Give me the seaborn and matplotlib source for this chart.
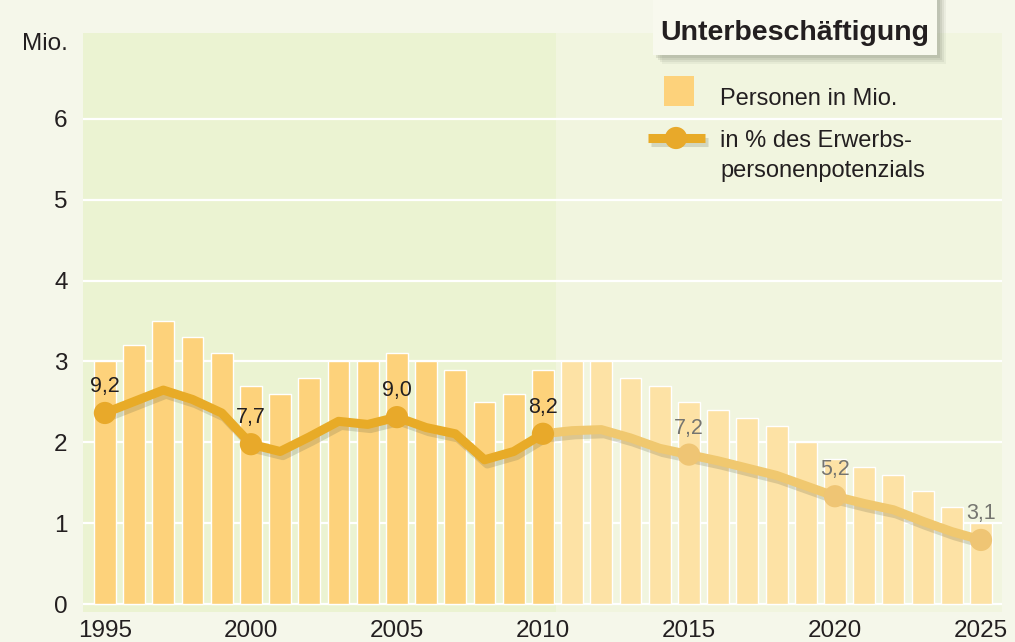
import numpy as np
import pandas as pd
import seaborn as sns
import matplotlib.pyplot as plt
import matplotlib.patheffects as pe
from matplotlib.lines import Line2D
from matplotlib.patches import Rectangle

# Daten
years = list(range(1995, 2026))
personen = [3.0, 3.2, 3.5, 3.3, 3.1, 2.7, 2.6, 2.8, 3.0, 3.0, 3.1, 3.0, 2.9, 2.5, 2.6, 2.9,
            3.0, 3.0, 2.8, 2.7, 2.5, 2.4, 2.3, 2.2, 2.0, 1.8, 1.7, 1.6, 1.4, 1.2, 1.0]
quote = [9.2, 9.75, 10.3, 9.85, 9.2, 7.7, 7.35, 8.05, 8.8, 8.65, 9.0, 8.5, 8.2, 6.95, 7.35, 8.2,
         8.35, 8.4, 8.0, 7.5, 7.2, 6.9, 6.55, 6.2, 5.7, 5.2, 4.85, 4.55, 4.0, 3.5, 3.1]
label_years = [1995, 2000, 2005, 2010, 2015, 2020, 2025]
last_actual = 2010

W, H = 1015, 642
BG = '#f5f7ea'
c_bar, c_bar_proj = '#fdd27b', '#fde2a5'
c_line, c_line_proj = '#e8ab27', '#f0c86f'
c_text = '#231f20'

sns.set_theme(style='white')
plt.rcParams['font.family'] = ['Liberation Sans', 'DejaVu Sans']

df = pd.DataFrame({'Jahr': years, 'Personen': personen, 'Quote': quote})
df['Phase'] = np.where(df['Jahr'] <= last_actual, 'Ist', 'Projektion')


def px(x, y):
    return x / W, 1 - y / H


fig = plt.figure(figsize=(W / 100, H / 100), dpi=100, facecolor=BG)
ax = fig.add_axes([83 / W, 1 - 612 / H, (1002 - 83) / W, (612 - 33) / H])
ax.set_facecolor('#f1f5df')

ylo, yhi = -0.093, 7.056
xlo, xhi = 1994.25, 2025.72
ax.axvspan(xlo, last_actual + 0.45, color='#ebf3d2', zorder=0.2, lw=0)

sns.barplot(data=df, x='Jahr', y='Personen', hue='Phase',
            palette={'Ist': c_bar, 'Projektion': c_bar_proj},
            native_scale=True, width=0.75, dodge=False, saturation=1,
            errorbar=None, legend=False, ax=ax)

ax.set_xlim(xlo, xhi)
ax.set_ylim(ylo, yhi)
ax.set_yticks(range(0, 7))
ax.set_xticks(label_years)
ax.set_axisbelow(True)
ax.grid(axis='y', color='white', lw=1.6)
ax.grid(axis='x', visible=False)
ax.tick_params(length=0, labelsize=17.5, colors=c_text)
ax.tick_params(axis='x', pad=6)
ax.tick_params(axis='y', pad=11)
ax.set_xlabel('')
ax.set_ylabel('')
sns.despine(ax=ax, left=True, bottom=True)

# Quote auf Zweitachse (ohne Skala)
scale = 0.257
ax2 = ax.twinx()
ax2.set_ylim(ylo / scale, yhi / scale)
shadow = [pe.SimpleLineShadow(offset=(2, -3), shadow_color='#5a5a40', alpha=0.2), pe.Normal()]

hist = df[df['Jahr'] <= last_actual].reset_index(drop=True)
proj = df[df['Jahr'] >= last_actual].reset_index(drop=True)
mk_hist = [i for i, y in enumerate(hist['Jahr']) if y in label_years]
mk_proj = [i for i, y in enumerate(proj['Jahr']) if y in label_years and y != last_actual]

sns.lineplot(data=proj, x='Jahr', y='Quote', color=c_line_proj, lw=6.5, marker='o',
             markersize=16, markeredgewidth=0, markerfacecolor='#efc574',
             markevery=mk_proj, legend=False, ax=ax2, path_effects=shadow)
sns.lineplot(data=hist, x='Jahr', y='Quote', color=c_line, lw=6.5, marker='o',
             markersize=16, markeredgewidth=0, markerfacecolor='#e8a92a',
             markevery=mk_hist, legend=False, ax=ax2, path_effects=shadow)
ax2.set_axis_off()

for yr, q in zip(df['Jahr'], df['Quote']):
    if yr in label_years:
        col = c_text if yr <= last_actual else '#757570'
        ax2.annotate(f'{q:.1f}'.replace('.', ','), (yr, q), xytext=(0, 15),
                     textcoords='offset points', ha='center', va='baseline',
                     fontsize=15.5, color=col)

# Einheit
fig.text(*px(68, 50), 'Mio.', ha='right', va='baseline', fontsize=17.5, color=c_text)

# Titelkasten mit Schatten
for i, a in enumerate([0.10, 0.14, 0.18, 0.22]):
    off = 9 - 2 * i
    fig.add_artist(Rectangle(px(653 + off, 55 + off), 284 / W, 70 / H,
                             transform=fig.transFigure, color='#8e9480', alpha=a, lw=0))
fig.add_artist(Rectangle(px(653, 55), 284 / W, 70 / H, transform=fig.transFigure,
                         color='#f8f9ee', lw=0))
fig.text(*px(795, 40), 'Unterbeschäftigung', ha='center', va='baseline', fontsize=20.5,
         fontweight='bold', color=c_text)

# Legende
fig.add_artist(Rectangle(px(664, 106), 30 / W, 30 / H, transform=fig.transFigure,
                         color=c_bar, lw=0))
fig.text(*px(720, 105), 'Personen in Mio.', ha='left', va='baseline', fontsize=17,
         color=c_text)
fig.add_artist(Line2D([648 / W, 705 / W], [1 - 138 / H] * 2, transform=fig.transFigure,
                      lw=6.5, color=c_line, solid_capstyle='butt', path_effects=shadow))
fig.add_artist(Line2D([676 / W], [1 - 138 / H], transform=fig.transFigure, marker='o',
                      ms=16, mew=0, color='#e8a92a', path_effects=shadow))
fig.text(*px(720, 147), 'in % des Erwerbs-', ha='left', va='baseline', fontsize=17,
         color=c_text)
fig.text(*px(720, 177), 'personenpotenzials', ha='left', va='baseline', fontsize=17,
         color=c_text)

fig.savefig('out.png', dpi=100, facecolor=BG)
